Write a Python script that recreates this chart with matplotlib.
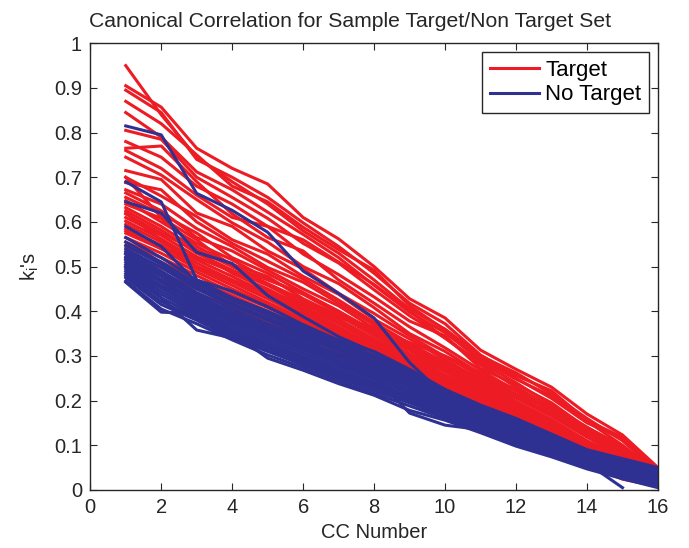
import numpy as np
import matplotlib
matplotlib.use("Agg")
import matplotlib.pyplot as plt

plt.rcParams["font.family"] = ["Liberation Sans", "DejaVu Sans"]
plt.rcParams["mathtext.default"] = "regular"

# =====================================================
# Data (canonical correlations k_i)
# =====================================================

cc_number = np.arange(1, 17)

target = [
    [.950, .840, .745, .690, .640, .580, .530, .470, .405, .360, .300, .262, .215, .160, .110, .040],
    [.905, .857, .765, .720, .685, .610, .562, .500, .428, .385, .313, .270, .230, .170, .123, .050],
    [.895, .845, .740, .700, .655, .598, .545, .485, .418, .372, .302, .256, .222, .155, .118, .042],
    [.870, .820, .750, .680, .645, .588, .538, .492, .412, .358, .296, .250, .205, .150, .115, .045],
    [.845, .790, .712, .672, .622, .572, .520, .458, .398, .352, .290, .248, .210, .154, .100, .038],
    [.805, .785, .700, .655, .608, .552, .508, .448, .390, .340, .285, .240, .190, .140, .098, .035],
    [.780, .745, .680, .640, .590, .528, .482, .432, .378, .345, .272, .236, .195, .138, .094, .032],
    [.765, .770, .690, .618, .565, .535, .470, .418, .365, .318, .268, .222, .180, .132, .092, .030],
    [.745, .705, .650, .598, .555, .500, .462, .408, .350, .310, .260, .225, .175, .125, .085, .030],
    [.715, .695, .620, .590, .535, .495, .440, .395, .345, .298, .255, .210, .172, .120, .080, .028],
    [.700, .658, .612, .560, .528, .478, .438, .382, .338, .292, .245, .205, .165, .118, .075, .025],
    [.688, .672, .600, .552, .512, .472, .425, .375, .328, .285, .242, .198, .158, .110, .072, .025],
    [.672, .640, .585, .545, .498, .465, .418, .370, .322, .280, .236, .195, .152, .108, .066, .022],
    [.665, .625, .565, .535, .492, .450, .412, .362, .316, .275, .232, .190, .150, .105, .062, .020],
    [.655, .618, .575, .520, .485, .442, .400, .356, .312, .268, .228, .185, .145, .100, .060, .020],
    [.648, .600, .552, .515, .472, .438, .395, .350, .305, .265, .222, .182, .140, .098, .058, .018],
    [.640, .608, .545, .505, .478, .428, .390, .345, .300, .258, .218, .178, .138, .095, .055, .018],
    [.632, .590, .538, .500, .462, .425, .382, .338, .295, .255, .215, .172, .134, .092, .052, .016],
    [.625, .582, .530, .492, .458, .418, .376, .332, .290, .250, .210, .170, .130, .090, .050, .015],
    [.618, .575, .535, .485, .450, .410, .372, .328, .285, .245, .205, .168, .128, .086, .048, .015],
    [.610, .570, .522, .488, .445, .405, .365, .322, .282, .240, .202, .165, .125, .084, .046, .014],
    [.602, .562, .515, .478, .440, .400, .360, .318, .278, .236, .198, .160, .122, .080, .044, .014],
    [.595, .555, .508, .470, .435, .395, .355, .315, .272, .232, .195, .158, .120, .078, .042, .012],
    [.585, .548, .500, .465, .428, .388, .350, .310, .268, .228, .192, .155, .118, .076, .040, .012],
    [.575, .540, .495, .458, .420, .382, .345, .305, .262, .225, .188, .150, .115, .074, .038, .012],
    [.565, .530, .488, .450, .415, .376, .340, .300, .258, .220, .185, .148, .112, .072, .036, .010],
    [.555, .520, .480, .442, .408, .370, .335, .295, .255, .218, .180, .145, .110, .068, .034, .010],
    [.545, .510, .470, .435, .400, .364, .330, .290, .250, .214, .176, .142, .108, .066, .032, .010],
    [.530, .498, .460, .425, .392, .356, .322, .285, .245, .210, .172, .138, .104, .064, .030, .010],
    [.515, .485, .450, .418, .385, .350, .316, .280, .240, .205, .168, .135, .100, .062, .028, .008],
    [.500, .470, .440, .410, .378, .344, .310, .275, .235, .200, .165, .130, .098, .060, .026, .008],
    [.480, .455, .430, .400, .370, .336, .302, .270, .230, .195, .160, .126, .095, .058, .024, .008],
    [.620, .560, .500, .470, .440, .420, .390, .360, .330, .300, .262, .215, .180, .140, .092, .030],
    [.700, .610, .560, .500, .470, .440, .400, .350, .315, .270, .220, .180, .140, .095, .060, .022],
    [.760, .720, .660, .610, .590, .560, .510, .460, .400, .340, .280, .230, .185, .140, .095, .035],
    [.580, .540, .520, .490, .460, .415, .385, .365, .320, .288, .250, .212, .168, .130, .085, .030],
]

no_target = [
    [.565, .520, .470, .430, .400, .365, .335, .310, .270, .225, .190, .160, .125, .090, .070, .050],
    [.555, .510, .462, .425, .392, .358, .328, .300, .262, .220, .186, .155, .120, .088, .066, .046],
    [.548, .505, .455, .418, .385, .352, .322, .295, .256, .215, .182, .150, .118, .085, .062, .042],
    [.540, .498, .450, .412, .380, .346, .318, .288, .250, .212, .178, .146, .114, .082, .060, .040],
    [.535, .490, .442, .405, .372, .340, .312, .282, .245, .208, .175, .142, .110, .080, .058, .038],
    [.528, .485, .436, .398, .366, .334, .305, .276, .240, .204, .170, .140, .108, .077, .055, .035],
    [.522, .478, .430, .392, .360, .328, .300, .270, .236, .200, .167, .136, .105, .075, .052, .032],
    [.516, .470, .424, .386, .354, .322, .294, .264, .232, .196, .164, .133, .102, .072, .050, .030],
    [.510, .465, .418, .380, .348, .318, .288, .258, .228, .192, .160, .130, .100, .070, .048, .028],
    [.505, .458, .412, .374, .342, .312, .282, .252, .222, .188, .157, .127, .097, .067, .045, .026],
    [.500, .452, .406, .368, .336, .306, .276, .248, .218, .184, .154, .124, .094, .064, .042, .024],
    [.495, .445, .400, .362, .330, .300, .270, .242, .212, .180, .150, .120, .090, .062, .040, .020],
    [.490, .438, .395, .356, .325, .295, .265, .238, .208, .176, .147, .117, .087, .060, .038, .018],
    [.485, .430, .390, .350, .320, .290, .260, .233, .204, .172, .144, .114, .084, .058, .035, .015],
    [.480, .422, .385, .345, .315, .285, .255, .228, .200, .168, .140, .110, .082, .055, .032, .012],
    [.475, .415, .380, .340, .310, .280, .250, .222, .195, .164, .136, .106, .080, .052, .030, .010],
    [.468, .405, .372, .336, .302, .274, .244, .216, .188, .160, .132, .102, .077, .050, .028, .008],
    [.465, .398, .395, .352, .295, .268, .238, .212, .178, .156, .128, .098, .074, .047, .025, .005],
    [.500, .430, .358, .340, .315, .290, .262, .232, .205, .170, .140, .112, .085, .058, .035, .015],
    [.520, .470, .420, .380, .350, .315, .285, .255, .172, .145, .135, .110, .085, .060, .040, .020],
    [.530, .480, .430, .392, .360, .325, .295, .262, .232, .198, .165, .130, .100, .060, .005],
    [.815, .795, .664, .626, .577, .490, .440, .385, .285, .210, .180, .150, .120, .085, .055, .030],
    [.690, .645, .470, .445, .410, .370, .335, .300, .262, .215, .180, .148, .115, .082, .055, .030],
    [.645, .620, .532, .507, .435, .388, .343, .308, .265, .218, .182, .150, .118, .085, .058, .032],
    [.590, .545, .465, .430, .398, .362, .330, .298, .258, .212, .178, .146, .114, .082, .056, .030],
]

x_ticks = np.arange(0, 17, 2)
y_ticks = np.round(np.arange(0, 1.01, 0.1), 1)
y_labels = ["0"] + ["%.1f" % v for v in y_ticks[1:-1]] + ["1"]

RED = "#ED1C24"
BLUE = "#2E3192"
INK = "#262626"

# =====================================================
# Plot
# =====================================================

fig = plt.figure(figsize=(6.89, 5.48), dpi=100)
ax = fig.add_axes([0.131, 0.106, 0.824, 0.815])

for i, row in enumerate(target):
    ax.plot(cc_number[:len(row)], row, color=RED, lw=2.2,
            label="Target" if i == 0 else None)

for i, row in enumerate(no_target):
    ax.plot(cc_number[:len(row)], row, color=BLUE, lw=2.2,
            label="No Target" if i == 0 else None)

ax.set_xlim(0, 16)
ax.set_ylim(0, 1)
ax.set_xticks(x_ticks)
ax.set_yticks(y_ticks)
ax.set_yticklabels(y_labels)

ax.tick_params(direction="in", top=True, right=True, length=5,
               labelsize=14.5, colors=INK, pad=6)
for s in ax.spines.values():
    s.set_color(INK)
    s.set_linewidth(1.0)

ax.set_xlabel("CC Number", fontsize=14.5, color=INK, labelpad=4)
ax.set_ylabel("k$_i$'s", fontsize=14.5, color=INK, labelpad=9)
ax.set_title("Canonical Correlation for Sample Target/Non Target Set",
             fontsize=15.2, color=INK, pad=12, x=0.458)

leg = ax.legend(loc="upper right", fontsize=16, fancybox=False,
                framealpha=1, edgecolor=INK, handlelength=2.2,
                handletextpad=0.3, borderpad=0.35,
                borderaxespad=0.4, labelspacing=0.15)
leg.get_frame().set_linewidth(1.0)

fig.savefig("out.png", dpi=100)
